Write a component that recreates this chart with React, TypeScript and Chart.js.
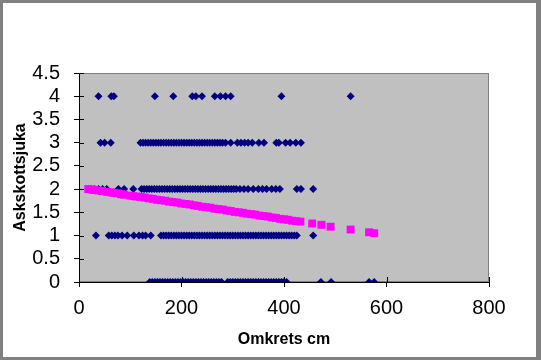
import { useEffect, useRef } from 'react';
import { Chart, registerables } from 'chart.js';

Chart.register(...registerables);

// Observations (Omkrets cm) at each Askskottsjuka level
const level4X = [38, 63, 68, 148, 184, 221, 228, 240, 265, 276, 286, 296, 395, 530];
const level3X = [42, 50, 62, 120, 125, 130, 135, 140, 145, 150, 155, 160, 165, 170, 175, 180, 185, 190, 195, 200, 205, 210, 215, 220, 225, 230, 235, 240, 245, 250, 255, 260, 265, 270, 275, 280, 286, 296, 309, 316, 323, 330, 338, 351, 361, 385, 390, 403, 412, 423, 433];
const level2X = [22, 30, 38, 46, 54, 77, 88, 106, 122, 127, 132, 137, 142, 147, 152, 157, 162, 167, 172, 177, 182, 187, 192, 197, 202, 207, 212, 217, 222, 227, 232, 237, 242, 247, 252, 257, 262, 267, 272, 277, 282, 287, 292, 297, 302, 307, 314, 322, 330, 340, 350, 358, 366, 376, 384, 392, 425, 433, 457];
const level1X = [33, 58, 64, 70, 76, 84, 94, 107, 117, 124, 130, 140, 160, 165, 170, 175, 180, 185, 190, 195, 200, 205, 210, 215, 220, 225, 230, 235, 240, 245, 250, 255, 260, 265, 270, 275, 280, 285, 290, 295, 300, 305, 310, 315, 320, 325, 330, 335, 340, 345, 350, 355, 360, 365, 370, 375, 380, 385, 390, 395, 400, 405, 410, 415, 420, 425, 457];
const level0X = [138, 143, 148, 153, 158, 163, 168, 173, 178, 183, 188, 193, 198, 203, 208, 213, 218, 223, 228, 233, 238, 243, 248, 253, 258, 263, 268, 273, 278, 290, 295, 300, 305, 310, 315, 320, 325, 330, 335, 340, 345, 350, 355, 360, 365, 370, 375, 380, 385, 390, 395, 400, 405, 472, 492, 566, 576];
const levels = [4, 3, 2, 1, 0];

// Fitted values (magenta)
const trendX = [18, 25, 30, 38, 45, 55, 62, 68, 75, 82, 88, 100, 106, 112, 120, 128, 136, 144, 152, 160, 168, 176, 184, 192, 200, 208, 216, 224, 232, 240, 248, 256, 264, 272, 280, 288, 296, 304, 312, 320, 328, 336, 344, 352, 360, 368, 376, 384, 392, 400, 408, 416, 424, 432, 455, 473, 491, 530, 566, 576];
const trendY = [2.00, 1.99, 1.98, 1.97, 1.96, 1.94, 1.93, 1.92, 1.91, 1.89, 1.88, 1.86, 1.85, 1.84, 1.83, 1.82, 1.80, 1.79, 1.77, 1.76, 1.75, 1.73, 1.72, 1.71, 1.69, 1.68, 1.67, 1.65, 1.64, 1.62, 1.61, 1.60, 1.58, 1.57, 1.56, 1.54, 1.53, 1.51, 1.50, 1.49, 1.47, 1.46, 1.45, 1.43, 1.42, 1.41, 1.39, 1.38, 1.36, 1.35, 1.34, 1.32, 1.31, 1.30, 1.26, 1.23, 1.19, 1.13, 1.07, 1.05];

const xTicks = [0, 200, 400, 600, 800];
const yTicks = [0, 0.5, 1, 1.5, 2, 2.5, 3, 3.5, 4, 4.5];

const FONT = "'Liberation Sans', Arial, sans-serif";

const plotPlugin = {
  id: 'plotPlugin',
  beforeDraw(chart: any) {
    const { ctx, chartArea } = chart;
    const { left, top, right, bottom } = chartArea;
    ctx.save();
    ctx.fillStyle = '#C0C0C0';
    ctx.fillRect(left, top, right - left, bottom - top);
    ctx.strokeStyle = '#808080';
    ctx.lineWidth = 1;
    ctx.strokeRect(left + 0.5, top + 0.5, right - left - 1, bottom - top - 1);
    ctx.restore();
  },
  beforeDatasetsDraw(chart: any) {
    const { ctx, chartArea, scales } = chart;
    ctx.save();
    ctx.strokeStyle = '#000';
    ctx.lineWidth = 1;
    ctx.beginPath();
    scales.x.ticks.forEach((t: any) => {
      const px = Math.round(scales.x.getPixelForValue(t.value)) + 0.5;
      ctx.moveTo(px, chartArea.bottom);
      ctx.lineTo(px, chartArea.bottom - 5);
    });
    scales.y.ticks.forEach((t: any) => {
      const py = Math.round(scales.y.getPixelForValue(t.value)) + 0.5;
      ctx.moveTo(chartArea.left, py);
      ctx.lineTo(chartArea.left + 5, py);
    });
    ctx.stroke();
    ctx.restore();
  },
};

export default function App() {
  const ref = useRef<HTMLCanvasElement>(null);
  useEffect(() => {
    const xLevels = [level4X, level3X, level2X, level1X, level0X];
    const blue: { x: number; y: number }[] = [];
    xLevels.forEach((arr, i) => arr.forEach((x) => blue.push({ x, y: levels[i] })));
    const trend = trendX.map((x, i) => ({ x, y: trendY[i] }));
    const chart = new Chart(ref.current!, {
      type: 'scatter',
      data: {
        datasets: [
          {
            data: trend,
            pointStyle: 'rect',
            pointRadius: 5.6,
            backgroundColor: '#FF00FF',
            borderColor: '#FF00FF',
            borderWidth: 0,
            order: 0,
          },
          {
            data: blue,
            pointStyle: 'rectRot',
            pointRadius: 4,
            backgroundColor: '#000080',
            borderColor: '#000080',
            borderWidth: 0,
            order: 1,
          },
        ],
      },
      options: {
        animation: false,
        responsive: false,
        events: [],
        layout: { padding: { left: 0, top: 70, right: 47, bottom: 0 } },
        plugins: { legend: { display: false }, tooltip: { enabled: false } },
        scales: {
          x: {
            type: 'linear',
            min: 0,
            max: 800,
            afterBuildTicks: (s: any) => {
              s.ticks = xTicks.map((v) => ({ value: v }));
            },
            afterFit: (s: any) => {
              s.height = 75;
            },
            grid: { drawOnChartArea: false, tickLength: 5, color: '#000', tickColor: '#000' },
            border: { color: '#000', width: 1 },
            ticks: {
              font: { family: FONT, size: 20 },
              color: '#000',
              padding: 9,
              maxRotation: 0,
              autoSkip: false,
              callback: (v: any) => String(v),
            },
            title: {
              display: true,
              text: 'Omkrets cm',
              color: '#000',
              font: { family: FONT, size: 16, weight: 'bold' },
              padding: { top: 0, bottom: 8 },
            },
          },
          y: {
            type: 'linear',
            min: 0,
            max: 4.5,
            afterBuildTicks: (s: any) => {
              s.ticks = yTicks.map((v) => ({ value: v }));
            },
            afterFit: (s: any) => {
              s.width = 76;
            },
            grid: { drawOnChartArea: false, tickLength: 5, color: '#000', tickColor: '#000' },
            border: { color: '#000', width: 1 },
            ticks: {
              font: { family: FONT, size: 20 },
              color: '#000',
              padding: 14,
              autoSkip: false,
              callback: (v: any) => String(v),
            },
            title: {
              display: true,
              text: 'Askskottsjuka',
              color: '#000',
              font: { family: FONT, size: 16, weight: 'bold' },
              padding: { top: 8, bottom: 0 },
            },
          },
        },
      },
      plugins: [plotPlugin],
    } as any);
    return () => chart.destroy();
  }, []);

  return (
    <div
      style={{
        position: 'fixed',
        left: 0,
        top: 0,
        width: 541,
        height: 360,
        boxSizing: 'border-box',
        borderLeft: '3px solid #808080',
        borderTop: '3px solid #808080',
        borderRight: '5px solid #808080',
        borderBottom: '3px solid #808080',
        background: '#fff',
      }}
    >
      <canvas ref={ref} width={533} height={354} style={{ display: 'block', width: 533, height: 354 }} />
    </div>
  );
}
